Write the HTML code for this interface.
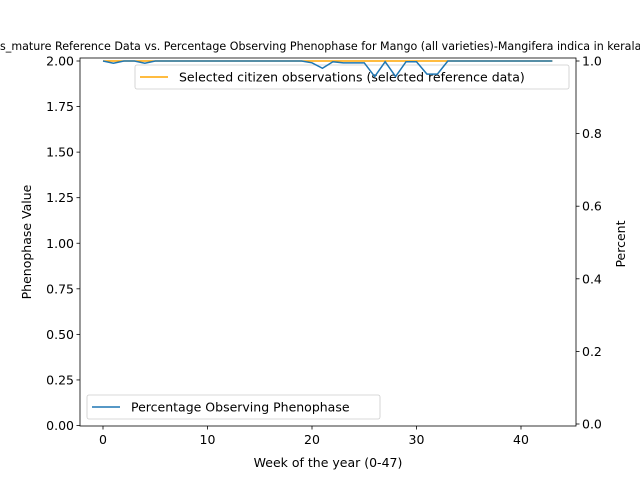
<!DOCTYPE html>
<html><head><meta charset="utf-8"><style>
body{margin:0;background:#fff}
svg{font-family:"DejaVu Sans","Liberation Sans",sans-serif}
</style></head><body>
<svg width="640" height="480" viewBox="0 0 640 480">
<text x="0" y="50" font-size="11.1">s_mature Reference Data vs. Percentage Observing Phenophase for Mango (all varieties)-Mangifera indica in kerala</text>
<g id="plot"></g>
</svg>
<script>
const weeks=[];for(let i=0;i<=43;i++)weeks.push(i);
const refValues=weeks.map(()=>2);
const pctValues=[1.0,0.994,1.0,1.0,0.994,1.0,1.0,1.0,1.0,1.0,1.0,1.0,1.0,1.0,1.0,1.0,1.0,1.0,1.0,1.0,0.995,0.98,0.998,0.995,0.995,0.995,0.957,0.998,0.957,0.998,0.998,0.964,0.964,1.0,1.0,1.0,1.0,1.0,1.0,1.0,1.0,1.0,1.0,1.0];
const xTicks=[0,10,20,30,40];
const yLeftTicks=[0,0.25,0.5,0.75,1.0,1.25,1.5,1.75,2.0];
const yRightTicks=[0,0.2,0.4,0.6,0.8,1.0];
const L=80,R=576,T=58,B=426;
const xs=v=>103+(v)*(521-103)/40;
const yl=v=>425.5-v*(425.5-61)/2;
const yr=v=>424-v*(424-61);
const NS="http://www.w3.org/2000/svg";
const g=document.getElementById('plot');
function mk(t,a,p){const e=document.createElementNS(NS,t);for(const k in a)e.setAttribute(k,a[k]);(p||g).appendChild(e);return e;}
const FS=12.5;
function legend(x,y,w,col,label,name){const lg=mk('g',{});
 
 mk('rect',{x:x,y:y,width:w,height:24,rx:2,fill:'#fff','fill-opacity':0.8,stroke:'#ccc','stroke-width':0.8},lg);
 mk('line',{x1:x+5,x2:x+33,y1:y+12,y2:y+12,stroke:col,'stroke-width':1.5},lg);
 const tt=mk('text',{x:x+44,y:y+16.5,'font-size':FS},lg);tt.textContent=label;}
let d=weeks.map((w,i)=>(i?'L':'M')+xs(w)+','+yl(refValues[i])).join('');
let e=mk('path',{d:d,fill:'none',stroke:'#ffa500','stroke-width':1.5});

legend(135,65,434,'#ffa500','Selected citizen observations (selected reference data)','legend-reference');
d=weeks.map((w,i)=>(i?'L':'M')+xs(w)+','+yr(pctValues[i])).join('');
e=mk('path',{d:d,fill:'none',stroke:'#1f77b4','stroke-width':1.5});

legend(87,395,293,'#1f77b4','Percentage Observing Phenophase','legend-percentage');
e=mk('rect',{x:L,y:T,width:R-L,height:B-T,fill:'none',stroke:'#000','stroke-width':0.8});

xTicks.forEach(v=>{mk('line',{x1:xs(v),x2:xs(v),y1:B,y2:B+3.5,stroke:'#000','stroke-width':0.8});
 const t=mk('text',{x:xs(v),y:B+18,'font-size':FS,'text-anchor':'middle'});t.textContent=v;
 });
yLeftTicks.forEach(v=>{mk('line',{x1:L-3.5,x2:L,y1:yl(v),y2:yl(v),stroke:'#000','stroke-width':0.8});
 const t=mk('text',{x:L-6,y:yl(v)+4.5,'font-size':FS,'text-anchor':'end'});t.textContent=v.toFixed(2);
 });
yRightTicks.forEach(v=>{mk('line',{x1:R,x2:R+3.5,y1:yr(v),y2:yr(v),stroke:'#000','stroke-width':0.8});
 const t=mk('text',{x:R+6,y:yr(v)+4.5,'font-size':FS});t.textContent=v.toFixed(1);
 });
let t=mk('text',{x:328,y:467,'font-size':FS,'text-anchor':'middle'});t.textContent='Week of the year (0-47)';

t=mk('text',{x:31,y:242,'font-size':FS,'text-anchor':'middle',transform:'rotate(-90 31 242)'});t.textContent='Phenophase Value';

t=mk('text',{x:625,y:244,'font-size':FS,'text-anchor':'middle',transform:'rotate(-90 625 244)'});t.textContent='Percent';

</script>
</body></html>
